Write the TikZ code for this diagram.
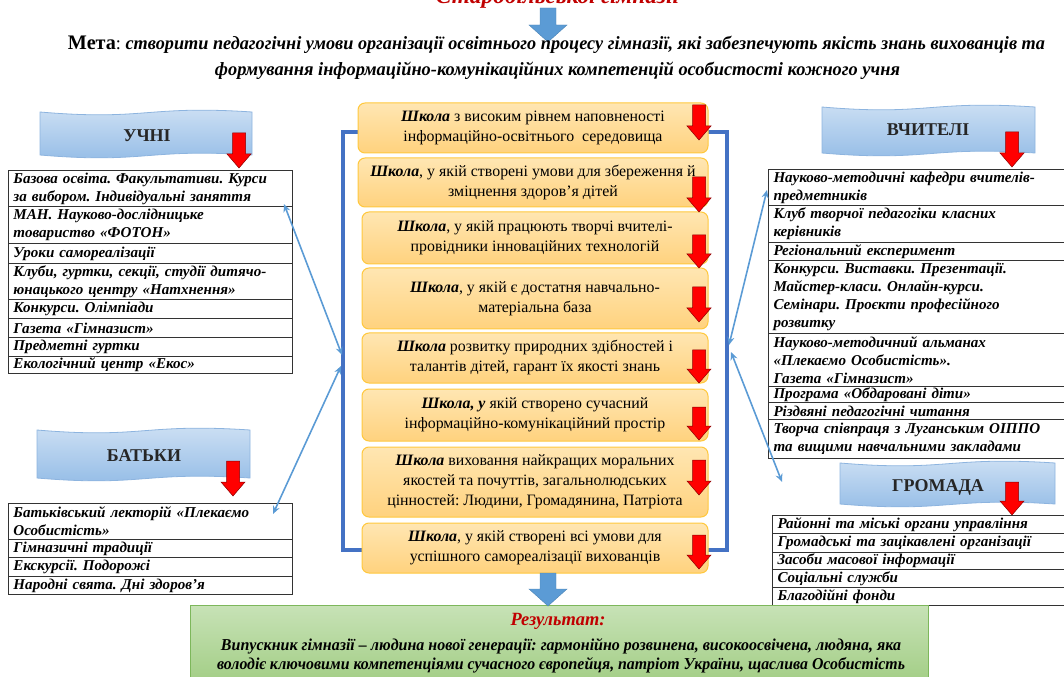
\documentclass[tikz,border=0pt]{standalone}
\usepackage{fontspec}
\setmainfont{Liberation Serif}
\usetikzlibrary{arrows.meta}
\newdimen\px \px=0.75pt
\definecolor{bannerTop}{HTML}{CFE1F4}
\definecolor{bannerBot}{HTML}{92BBE6}
\definecolor{bannerLine}{HTML}{8DB4DF}
\definecolor{arrowBlue}{HTML}{5B9BD5}
\definecolor{connBlue}{HTML}{5B9BD5}
\definecolor{frameBlue}{HTML}{4472C4}
\definecolor{boxTop}{HTML}{FFE6B2}
\definecolor{boxBot}{HTML}{FFD27E}
\definecolor{boxLine}{HTML}{FFC83D}
\definecolor{greenTop}{HTML}{C7E2B6}
\definecolor{greenBot}{HTML}{A3CE86}
\definecolor{greenLine}{HTML}{7DB75B}
\definecolor{darkred}{HTML}{C00000}
\newcommand\fitw[2]{\resizebox{#1\px}{\height}{#2}}
\newcommand\tcell[6]{\node[#2, minimum height=#5\px] (#1) at (#3,#4) {#6};}
\newcommand\redarrow[3]{\filldraw[redarr] ({#1-6.5},#2) -- ({#1+6.5},#2) -- ({#1+6.5},{#3-14}) -- ({#1+12},{#3-14}) -- (#1,#3) -- ({#1-12},{#3-14}) -- ({#1-6.5},{#3-14}) -- cycle;}
\newcommand\bluearrow[3]{\filldraw[bluearr] ({#1-8},#2) -- ({#1+8},#2) -- ({#1+8},{#3-17}) -- ({#1+19},{#3-17}) -- (#1,#3) -- ({#1-19},{#3-17}) -- ({#1-8},{#3-17}) -- cycle;}
\newcommand\wavebanner[4]{\path[banner] (#1,#2) .. controls ({#1+0.5*(#3-#1)},{#2+9}) and ({#1+0.5*(#3-#1)},{#2-7}) .. (#3,#2) -- (#3,#4) .. controls ({#1+0.5*(#3-#1)},{#4-7}) and ({#1+0.5*(#3-#1)},{#4+9}) .. (#1,#4) -- cycle;}
\newcommand\sk{\textbf{\textit{Школа}}}
\frenchspacing
\begin{document}
\frenchspacing
\begin{tikzpicture}[x=0.75pt,y=-0.75pt,
  cell/.style={draw=black!80, line width=1\px, anchor=north west, inner xsep=5\px, inner ysep=0pt, align=left, font=\frenchspacing\bfseries\itshape\fontsize{11.3}{13.5}\selectfont},
  lcell/.style={cell, text width=274\px},
  rcell/.style={cell, text width=300\px},
  sbox/.style={rounded corners=7\px, draw=boxLine, line width=1\px, top color=boxTop, bottom color=boxBot, align=center, inner sep=0pt, font=\frenchspacing\fontsize{11.9}{15}\selectfont},
  banner/.style={top color=bannerTop, bottom color=bannerBot, draw=bannerLine, line width=0.8\px},
  btext/.style={font=\bfseries\fontsize{13.5}{16}\selectfont, text=black!85},
  redarr/.style={fill=red, draw=red!55!black, line width=0.5\px},
  bluearr/.style={fill=arrowBlue, draw=arrowBlue!85!black, line width=0.4\px},
  conn/.style={draw=connBlue, line width=1.2pt, {Stealth[length=6pt,width=5.2pt]}-{Stealth[length=6pt,width=5.2pt]}},
  frame/.style={draw=frameBlue, line width=3.2\px},
  greenbox/.style={draw=greenLine, line width=1\px, top color=greenTop, bottom color=greenBot, inner sep=0pt},
  condtxt/.style={inner sep=0pt, font=\bfseries\itshape\fontsize{14}{16}\selectfont}
]
\useasboundingbox (0,0) rectangle (1064,677);

% title (clipped at top) and goal
\node[condtxt, anchor=base, text=darkred, font=\bfseries\itshape\fontsize{17}{18}\selectfont] (title) at (557.5,4) {\fitw{243}{Старобільської гімназії}};
\bluearrow{548}{8}{42}
\node[condtxt] (meta1) at (556.5,45) {\fitw{977}{\textbf{\upshape\fontsize{15.5}{16}\selectfont Мета}\textup{\mdseries:} створити педагогічні умови організації освітнього процесу гімназії, які забезпечують якість знань вихованців та}};
\node[condtxt] (meta2) at (557.5,71) {\fitw{685}{формування інформаційно-комунікаційних компетенцій особистості кожного учня}};

% central frame
\draw[frame] (343,132) rectangle (727,550);

% central boxes
\node[sbox, minimum width=350\px, minimum height=50\px] (s1) at (533,128) {\sk{} з високим рівнем наповненості\\інформаційно-освітнього\ \ середовища};
\node[sbox, minimum width=350\px, minimum height=49\px] (s2) at (533,182.5) {\sk, у якій створені умови для збереження й\\зміцнення здоров’я дітей};
\node[sbox, minimum width=346\px, minimum height=52\px] (s3) at (535,238) {\sk, у якій працюють творчі вчителі-\\провідники інноваційних технологій};
\node[sbox, minimum width=346\px, minimum height=61\px] (s4) at (535,298.5) {\sk, у якій є достатня навчально-\\матеріальна база};
\node[sbox, minimum width=346\px, minimum height=50\px] (s5) at (535,358) {\sk{} розвитку природних здібностей і\\талантів дітей, гарант їх якості знань};
\node[sbox, minimum width=346\px, minimum height=52\px] (s6) at (535,415) {\textbf{\textit{Школа, у}} якій створено сучасний\\інформаційно-комунікаційний простір};
\node[sbox, minimum width=346\px, minimum height=70\px] (s7) at (535,482) {\sk{} виховання найкращих моральних\\якостей та почуттів, загальнолюдських\\цінностей: Людини, Громадянина, Патріота};
\node[sbox, minimum width=346\px, minimum height=50\px] (s8) at (535,548) {\sk, у якій створені всі умови для\\успішного самореалізації вихованців};

\redarrow{699}{105}{140}
\redarrow{699}{177}{212}
\redarrow{699}{235}{268}
\redarrow{699}{287}{322}
\redarrow{699}{350}{383}
\redarrow{699}{407}{440}
\redarrow{699}{460}{495}
\redarrow{699}{535}{569}

% left: УЧНІ
\wavebanner{40}{112}{252}{155}
\node[btext] (tU) at (147,136) {УЧНІ};
\redarrow{239}{133}{168}
\tcell{u1}{lcell}{8}{170}{36}{Базова освіта. Факультативи. Курси\\за вибором. Індивідуальні заняття}
\tcell{u2}{lcell}{8}{206}{37}{МАН. Науково-дослідницьке\\товариство «ФОТОН»}
\tcell{u3}{lcell}{8}{243}{20}{Уроки самореалізації}
\tcell{u4}{lcell}{8}{263}{36}{Клуби, гуртки, секції, студії дитячо-\\юнацького центру «Натхнення»}
\tcell{u5}{lcell}{8}{299}{19}{Конкурси. Олімпіади}
\tcell{u6}{lcell}{8}{318}{19}{Газета «Гімназист»}
\tcell{u7}{lcell}{8}{337}{19}{Предметні гуртки}
\tcell{u8}{lcell}{8}{356}{17}{Екологічний центр «Екос»}

% left: БАТЬКИ
\wavebanner{37}{430}{250}{478}
\node[btext] (tB) at (144,456) {БАТЬКИ};
\redarrow{233}{461}{496}
\tcell{b1}{lcell}{8}{503}{36}{Батьківський лекторій «Плекаємо\\Особистість»}
\tcell{b2}{lcell}{8}{539}{18}{Гімназичні традиції}
\tcell{b3}{lcell}{8}{557}{19}{Екскурсії. Подорожі}
\tcell{b4}{lcell}{8}{576}{18}{Народні свята. Дні здоров’я}

% right: ВЧИТЕЛІ
\wavebanner{822}{107}{1035}{153}
\node[btext] (tV) at (928,130) {ВЧИТЕЛІ};
\redarrow{1012}{132}{167}
\tcell{v1}{rcell}{768}{169}{36}{Науково-методичні кафедри вчителів-\\предметників}
\tcell{v2}{rcell}{768}{205}{37}{Клуб творчої педагогіки класних\\керівників}
\tcell{v3}{rcell}{768}{242}{18}{Регіональний експеримент}
\tcell{v4}{rcell}{768}{260}{73}{Конкурси. Виставки. Презентації.\\Майстер-класи. Онлайн-курси.\\Семінари. Проєкти професійного\\розвитку}
\tcell{v5}{rcell}{768}{333}{53}{Науково-методичний альманах\\«Плекаємо Особистість».\\Газета «Гімназист»}
\tcell{v6}{rcell}{768}{386}{16}{Програма «Обдаровані діти»}
\tcell{v7}{rcell}{768}{402}{17}{Різдвяні педагогічні читання}
\tcell{v8}{rcell}{768}{419}{39}{Творча співпраця з Луганським ОІППО\\та вищими навчальними закладами}

% right: ГРОМАДА
\wavebanner{840}{463}{1055}{504}
\node[btext] (tG) at (938,487) {ГРОМАДА};
\redarrow{1012}{482}{515}
\tcell{g1}{rcell}{772}{515}{18}{Районні та міські органи управління}
\tcell{g2}{rcell}{772}{533}{19}{Громадські та зацікавлені організації}
\tcell{g3}{rcell}{772}{552}{17}{Засоби масової інформації}
\tcell{g4}{rcell}{772}{569}{18}{Соціальні служби}
\tcell{g5}{rcell}{772}{587}{18}{Благодійні фонди}

% connectors
\coordinate (pU) at (284,204);
\coordinate (pL1) at (342,355);
\coordinate (pL2) at (341,366);
\coordinate (pB) at (273,514);
\coordinate (pV) at (767,190);
\coordinate (pR1) at (729,345);
\coordinate (pR2) at (731,352);
\coordinate (pG) at (782,482);
\draw[conn] (pU) -- (pL1);
\draw[conn] (pL2) -- (pB);
\draw[conn] (pV) -- (pR1);
\draw[conn] (pR2) -- (pG);

% result
\node[greenbox, minimum width=738\px, minimum height=76\px, anchor=north west] (res) at (190,605) {};
\bluearrow{548}{573}{606}
\node[condtxt, text=darkred, font=\bfseries\itshape\fontsize{14}{16}\selectfont] (res0) at (558,621) {\fitw{95}{Результат:}};
\node[condtxt, font=\bfseries\itshape\fontsize{12.5}{14}\selectfont] (res1) at (561,646) {\fitw{680}{Випускник гімназії – людина нової генерації: гармонійно розвинена, високоосвічена, людяна, яка}};
\node[condtxt, font=\bfseries\itshape\fontsize{12.5}{14}\selectfont] (res2) at (561,665) {\fitw{688}{володіє ключовими компетенціями сучасного європейця, патріот України, щаслива Особистість}};
\end{tikzpicture}
\end{document}
